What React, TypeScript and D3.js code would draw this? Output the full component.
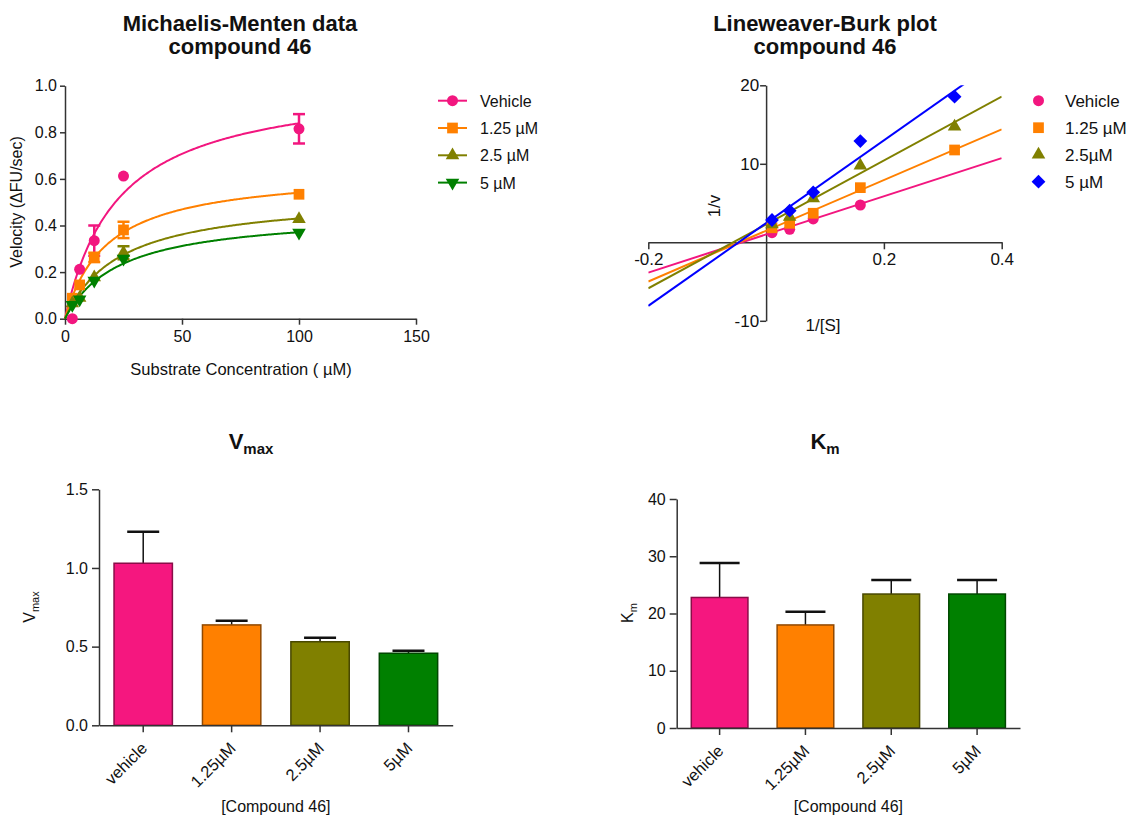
import { useRef, useEffect } from 'react'
import * as d3 from 'd3'

const FONT = "'Liberation Sans', Arial, Helvetica, sans-serif"

// ---- Michaelis-Menten data ----
const mmNames = ['Vehicle', '1.25 µM', '2.5 µM', '5 µM']
const mmColors = ['#f2167f', '#ff8000', '#808000', '#008000']
const mmShapes = ['circle', 'square', 'triangle', 'triangleDown']
const substrate = [3.125, 6.25, 12.5, 25, 100]
const vehicleV = [0.0, 0.212, 0.335, 0.612, 0.815]
const vehicleErr = [0, 0, 0.065, 0, 0.063]
const c125V = [0.088, 0.145, 0.263, 0.381, 0.534]
const c125Err = [0, 0, 0.02, 0.035, 0]
const c25V = [0.066, 0.09, 0.178, 0.283, 0.428]
const c25Err = [0, 0, 0, 0.028, 0]
const c5V = [0.059, 0.083, 0.163, 0.258, 0.369]
const c5Err = [0, 0, 0, 0, 0]

// ---- Lineweaver-Burk data ----
const lbNames = ['Vehicle', '1.25 µM', '2.5µM', '5 µM']
const lbColors = ['#f2167f', '#ff8000', '#808000', '#0000ff']
const lbShapes = ['circle', 'square', 'triangle', 'diamond']
const invS = [0.01, 0.04, 0.08, 0.16, 0.32]
const vehicleInvV = [1.22, 1.65, 2.97, 4.75, null]
const c125InvV = [1.85, 2.42, 3.7, 6.96, 11.76]
const c25InvV = [2.3, 3.26, 5.6, 9.76, 14.73]
const c5InvV = [2.84, 4.03, 6.37, 12.9, 18.55]
const lbSlope = [24.3, 32.3, 40.7, 52.7]
const lbIntercept = [1.0, 1.47, 2.28, 2.45]

// ---- fitted parameters ----
const barLabels = ['vehicle', '1.25µM', '2.5µM', '5µM']
const barColors = ['#f5177f', '#ff8000', '#808000', '#008000']
const vmaxMean = [1.03, 0.638, 0.531, 0.458]
const vmaxErr = [0.2, 0.027, 0.026, 0.016]
const kmMean = [22.8, 18.0, 23.4, 23.4]
const kmErr = [6.0, 2.3, 2.45, 2.45]

const mmSeries = [
  { v: vehicleV, err: vehicleErr },
  { v: c125V, err: c125Err },
  { v: c25V, err: c25Err },
  { v: c5V, err: c5Err },
]
const lbSeries = [vehicleInvV, c125InvV, c25InvV, c5InvV]

function symbolPath(shape, size) {
  if (shape === 'circle') return d3.symbol(d3.symbolCircle, size)()
  if (shape === 'square' || shape === 'diamond') return d3.symbol(d3.symbolSquare, size)()
  return d3.symbol(d3.symbolTriangle, size)()
}
function symbolRot(shape) {
  if (shape === 'triangleDown') return 180
  if (shape === 'diamond') return 45
  return 0
}
const symbolSize = { circle: 95, square: 115, triangle: 80, triangleDown: 80, diamond: 95 }

function addMarker(g, shape, color, x, y) {
  g.append('path')
    .attr('d', symbolPath(shape, symbolSize[shape]))
    .attr('transform', `translate(${x},${y}) rotate(${symbolRot(shape)})`)
    .attr('fill', color)
}

function styleAxis(ax, size) {
  ax.select('.domain').attr('stroke', '#333').attr('stroke-width', 1.5)
  ax.selectAll('.tick line').attr('stroke', '#333').attr('stroke-width', 1.5)
  ax.selectAll('.tick text')
    .attr('fill', '#111')
    .attr('font-size', size)
    .attr('font-family', FONT)
}

export default function App() {
  const svgRef = useRef(null)

  useEffect(() => {
    const svg = d3.select(svgRef.current)
    svg.selectAll('*').remove()

    const text = (x, y, str, size, opts = {}) =>
      svg
        .append('text')
        .attr('x', x)
        .attr('y', y)
        .attr('text-anchor', opts.anchor || 'middle')
        .attr('font-size', size)
        .attr('font-weight', opts.bold ? 'bold' : 'normal')
        .attr('font-family', FONT)
        .attr('fill', '#111')
        .text(str)

    // ========== Michaelis-Menten ==========
    {
      const x = d3.scaleLinear().domain([0, 150]).range([65, 416])
      const y = d3.scaleLinear().domain([0, 1]).range([318.7, 85.7])

      text(240, 31, 'Michaelis-Menten data', 22, { bold: true })
      text(240, 54, 'compound 46', 22, { bold: true })

      const ax = svg.append('g').attr('transform', `translate(0,${y(0)})`)
        .call(d3.axisBottom(x).tickValues([0, 50, 100, 150]).tickSize(6).tickPadding(6).tickSizeOuter(0))
      styleAxis(ax, 16)
      const ay = svg.append('g').attr('transform', `translate(${x(0)},0)`)
        .call(d3.axisLeft(y).tickValues([0, 0.2, 0.4, 0.6, 0.8, 1.0]).tickFormat(d3.format('.1f')).tickSize(5).tickPadding(3).tickSizeOuter(0))
      styleAxis(ay, 16)

      text(241, 375, 'Substrate Concentration ( µM)', 16.5)
      text(0, 0, 'Velocity (ΔFU/sec)', 16).attr('transform', 'translate(22,202) rotate(-90)')

      const curveX = d3.range(0, 100.5, 0.5)
      mmSeries.forEach((s, i) => {
        const col = mmColors[i]
        const line = d3.line().x((d) => x(d)).y((d) => y((vmaxMean[i] * d) / (kmMean[i] + d)))
        svg.append('path').attr('d', line(curveX)).attr('fill', 'none').attr('stroke', col).attr('stroke-width', 2)
      })
      mmSeries.forEach((s, i) => {
        const col = mmColors[i]
        const g = svg.append('g')
        s.v.forEach((v, j) => {
          const e = s.err[j]
          if (e > 0) {
            const cx = x(substrate[j])
            g.append('line').attr('x1', cx).attr('x2', cx).attr('y1', y(v - e)).attr('y2', y(v + e)).attr('stroke', col).attr('stroke-width', 2.5)
            ;[v - e, v + e].forEach((yy) =>
              g.append('line').attr('x1', cx - 6).attr('x2', cx + 6).attr('y1', y(yy)).attr('y2', y(yy)).attr('stroke', col).attr('stroke-width', 2.5)
            )
          }
          addMarker(g, mmShapes[i], col, x(substrate[j]), y(v))
        })
      })

      // legend
      mmNames.forEach((n, i) => {
        const ly = 100.7 + i * 27.3
        svg.append('line').attr('x1', 438).attr('x2', 467).attr('y1', ly).attr('y2', ly).attr('stroke', mmColors[i]).attr('stroke-width', 2)
        addMarker(svg, mmShapes[i], mmColors[i], 452.5, ly)
        text(480, ly + 6, n, 16, { anchor: 'start' })
      })
    }

    // ========== Lineweaver-Burk ==========
    {
      const x = d3.scaleLinear().domain([-0.2, 0.4]).range([648.3, 1001.7])
      const y = d3.scaleLinear().domain([-10, 20]).range([320.8, 85.3])

      text(825, 31, 'Lineweaver-Burk plot', 22, { bold: true })
      text(825, 54, 'compound 46', 22, { bold: true })

      const ax = svg.append('g').attr('transform', `translate(0,${y(0)})`)
        .call(d3.axisBottom(x).tickValues([-0.2, 0.2, 0.4]).tickFormat((d) => d.toFixed(1)).tickSize(7).tickPadding(4).tickSizeOuter(0))
      styleAxis(ax, 17)
      const ay = svg.append('g').attr('transform', `translate(${x(0)},0)`)
        .call(d3.axisLeft(y).tickValues([-10, 10, 20]).tickFormat((d) => String(d)).tickSize(6).tickPadding(1).tickSizeOuter(0))
      styleAxis(ay, 17)

      text(0, 0, '1/v', 17).attr('transform', 'translate(720,206) rotate(-90)')
      text(823, 331, '1/[S]', 17)

      svg.append('clipPath').attr('id', 'lbclip').append('rect')
        .attr('x', x(-0.2)).attr('y', y(20)).attr('width', x(0.4) - x(-0.2)).attr('height', y(-10) - y(20))
      const lg = svg.append('g').attr('clip-path', 'url(#lbclip)')
      lbSlope.forEach((m, i) => {
        const xs = [-0.2, 0.4]
        const line = d3.line().x((d) => x(d)).y((d) => y(lbIntercept[i] + m * d))
        lg.append('path').attr('d', line(xs)).attr('fill', 'none').attr('stroke', lbColors[i]).attr('stroke-width', 2)
      })
      lbSeries.forEach((vals, i) => {
        vals.forEach((v, j) => {
          if (v == null) return
          addMarker(svg, lbShapes[i], lbColors[i], x(invS[j]), y(v))
        })
      })

      lbNames.forEach((n, i) => {
        const ly = 100.7 + i * 27
        addMarker(svg, lbShapes[i], lbColors[i], 1038.5, ly)
        text(1065, ly + 6, n, 17, { anchor: 'start' })
      })
    }

    // ========== bar charts ==========
    const barChart = (cfg) => {
      const x = d3.scaleBand().domain(barLabels).range(cfg.xRange)
      const y = d3.scaleLinear().domain(cfg.yDomain).range(cfg.yRange)
      const bw = x.bandwidth() * 0.66

      cfg.means.forEach((m, i) => {
        const cx = x(barLabels[i]) + x.bandwidth() / 2
        svg.append('line').attr('x1', cx).attr('x2', cx).attr('y1', y(m)).attr('y2', y(m + cfg.errs[i])).attr('stroke', '#111').attr('stroke-width', 1.5)
        svg.append('line').attr('x1', cx - cfg.cap).attr('x2', cx + cfg.cap).attr('y1', y(m + cfg.errs[i])).attr('y2', y(m + cfg.errs[i])).attr('stroke', '#111').attr('stroke-width', 2.5)
        svg.append('rect')
          .attr('x', cx - bw / 2)
          .attr('y', y(m))
          .attr('width', bw)
          .attr('height', y(0) - y(m))
          .attr('fill', barColors[i])
          .attr('stroke', d3.color(barColors[i]).darker(1.6).formatHex())
          .attr('stroke-width', 1.5)
      })

      const ax = svg.append('g').attr('transform', `translate(0,${y(0)})`)
        .call(d3.axisBottom(x).tickFormat(() => '').tickSize(7).tickSizeOuter(0))
      styleAxis(ax, 16)
      const ay = svg.append('g').attr('transform', `translate(${cfg.xRange[0]},0)`)
        .call(d3.axisLeft(y).tickValues(cfg.ticks).tickFormat(cfg.fmt).tickSize(7).tickPadding(4).tickSizeOuter(0))
      styleAxis(ay, 16)

      barLabels.forEach((l) => {
        const cx = x(l) + x.bandwidth() / 2
        text(0, 0, l, 16.5, { anchor: 'end' }).attr('transform', `translate(${cx + 5},${y(0) + 24}) rotate(-45)`)
      })

      const cxMid = (cfg.xRange[0] + cfg.xRange[1]) / 2
      text(cxMid, 812, '[Compound 46]', 16)

      const t = text(cfg.titleX, 449, '', 22, { bold: true })
      t.append('tspan').text(cfg.sym)
      t.append('tspan').attr('font-size', 15).attr('dy', 5).text(cfg.sub)

      const yl = text(0, 0, '', 16).attr('transform', `translate(${cfg.ylX},${cfg.ylY}) rotate(-90)`)
      yl.append('tspan').text(cfg.sym)
      yl.append('tspan').attr('font-size', 11).attr('dy', 4).text(cfg.sub)
    }

    barChart({
      xRange: [99, 452.7],
      yDomain: [0, 1.5],
      yRange: [725.3, 489.3],
      ticks: [0, 0.5, 1.0, 1.5],
      fmt: d3.format('.1f'),
      means: vmaxMean,
      errs: vmaxErr,
      cap: 16,
      sym: 'V',
      sub: 'max',
      titleX: 251,
      ylX: 35,
      ylY: 607,
    })
    barChart({
      xRange: [676.7, 1020],
      yDomain: [0, 40],
      yRange: [728, 499],
      ticks: [0, 10, 20, 30, 40],
      fmt: d3.format('d'),
      means: kmMean,
      errs: kmErr,
      cap: 20,
      sym: 'K',
      sub: 'm',
      titleX: 825,
      ylX: 633,
      ylY: 613,
    })
  }, [])

  return (
    <svg
      ref={svgRef}
      width={1127}
      height={821}
      style={{ position: 'absolute', left: 0, top: 0, background: '#fff' }}
    />
  )
}
